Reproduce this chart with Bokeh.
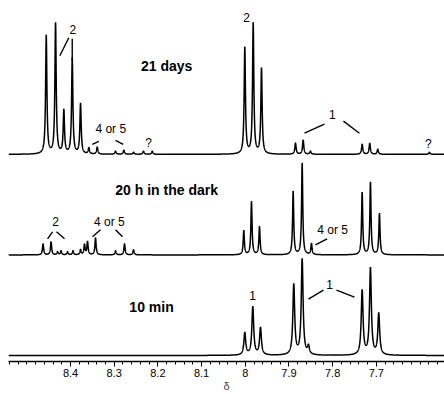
import numpy as np
from bokeh.plotting import figure
from bokeh.models import Range1d, FixedTicker
from bokeh.core.properties import value
from bokeh.embed import file_html
from bokeh.resources import INLINE

# ---------------- data ----------------
# chemical shift axis (ppm), reversed like an NMR spectrum
tick_values = [8.4, 8.3, 8.2, 8.1, 8.0, 7.9, 7.8, 7.7]
x_label = "δ"

# "21 days" trace: peak positions (ppm) and heights
days21_ppm = [8.4556, 8.4343, 8.4153, 8.3961, 8.3771,
              8.3581, 8.3389, 8.2970, 8.2780, 8.2558, 8.2330, 8.2130,
              8.0011, 7.9819, 7.9629,
              7.8851, 7.8675, 7.8508, 7.7325, 7.7151, 7.6968, 7.5785]
days21_int = [118, 130, 43, 95, 50,
              6, 7, 3, 4, 2, 3, 3,
              106, 130, 85,
              11, 14, 3, 10, 11, 5, 2]

# "20 h in the dark" trace
dark20_ppm = [8.4629, 8.4446, 8.4297, 8.4217, 8.4069, 8.3943, 8.3771,
              8.3680, 8.3611, 8.3428, 8.2970, 8.2764, 8.2558,
              8.0034, 7.9858, 7.9675,
              7.8904, 7.8698, 7.8485, 7.7325, 7.7135, 7.6929]
dark20_int = [11, 13, 3, 4, 3, 4, 5,
              10, 13, 17, 4, 11, 5,
              24, 53, 28,
              63, 91, 11, 62, 72, 41]

# "10 min" trace
min10_ppm = [8.0011, 7.9828, 7.9652,
             7.8890, 7.8698, 7.8554,
             7.7325, 7.7135, 7.6945]
min10_int = [22, 48, 27,
             70, 95, 8,
             64, 86, 41]

# stacking offsets and line widths (FWHM, ppm) of the three traces
trace_offset = [200, 100, 0]
trace_fwhm = [0.0035, 0.0032, 0.005]

# peak labels
lab_text = ["2", "2", "4 or 5", "?", "1", "?", "2", "4 or 5", "4 or 5", "1", "1"]
lab_ppm = [8.395, 7.997, 8.308, 8.2215, 7.8005, 7.5808, 8.434, 8.311, 7.800, 7.9835, 7.8073]
lab_y = [324, 336, 225, 211, 240, 210, 133, 133, 125, 60, 71]

# trace titles
title_text = ["21 days", "20 h in the dark", "10 min"]
title_ppm = [8.180, 8.180, 8.2146]
title_y = [288, 165, 48]

# label leader lines
lead_x0 = [8.4039, 8.3961, 8.3503, 8.2970, 7.8188, 7.7753, 8.4412, 8.4320, 8.3314, 8.2970, 7.8126, 7.8211, 7.7913]
lead_y0 = [316, 315, 210, 214, 230, 233, 123, 123, 125, 125, 116, 65, 65]
lead_x1 = [8.4245, 8.3961, 8.3352, 8.2794, 7.8645, 7.7387, 8.4526, 8.4137, 8.3497, 8.2810, 7.8394, 7.8554, 7.7501]
lead_y1 = [298, 293, 213, 210, 221, 221, 116, 116, 118, 118, 110, 56, 58]

# ---------------- figure ----------------
X0, X1 = 8.542, 7.544
p = figure(width=444, height=394, x_range=Range1d(X0, X1), y_range=Range1d(-6, 353),
           output_backend="svg", toolbar_location=None, y_axis_location=None,
           min_border_left=8, min_border_right=0, min_border_top=0, min_border_bottom=0)
p.outline_line_color = None
p.grid.visible = False
p.background_fill_color = "white"
p.border_fill_color = "white"

grid = np.linspace(X1, X0, 5000)


def spectrum(ppm, inten, fwhm):
    hw = fwhm / 2.0
    y = np.zeros_like(grid)
    for c, h in zip(ppm, inten):
        y += h / (1.0 + ((grid - c) / hw) ** 2)
    return y


for (pp, ii), off, w in zip([(days21_ppm, days21_int), (dark20_ppm, dark20_int), (min10_ppm, min10_int)],
                            trace_offset, trace_fwhm):
    p.line(grid, spectrum(pp, ii, w) + off, line_color="black", line_width=1.5)

p.segment(x0=lead_x0, y0=lead_y0, x1=lead_x1, y1=lead_y1, line_color="black", line_width=1.4)

p.text(x=lab_ppm, y=lab_y, text=lab_text, text_font=value("Liberation Sans"),
       text_font_size="12px", text_align="center", text_baseline="middle", text_color="black")
p.text(x=title_ppm, y=title_y, text=title_text, text_font=value("Liberation Sans"),
       text_font_size="14px", text_font_style="bold", text_align="center",
       text_baseline="middle", text_color="black")

ax = p.xaxis[0]
minor = [round(v, 2) for v in np.arange(7.56, 8.541, 0.02)]
ax.ticker = FixedTicker(ticks=tick_values, minor_ticks=minor)
ax.axis_label = x_label
ax.axis_label_text_font = "Liberation Sans"
ax.axis_label_text_font_style = "normal"
ax.axis_label_text_font_size = "11px"
ax.axis_label_standoff = 0
ax.major_label_text_font = "Liberation Sans"
ax.major_label_text_font_size = "11px"
ax.major_label_text_color = "black"
ax.major_label_standoff = 2
ax.axis_line_color = "black"
ax.axis_line_width = 1.5
ax.major_tick_line_color = "black"
ax.minor_tick_line_color = "black"
ax.major_tick_out = 5
ax.major_tick_in = 0
ax.minor_tick_out = 3
ax.minor_tick_in = 0

open("out.html", "w").write(file_html(p, INLINE))
